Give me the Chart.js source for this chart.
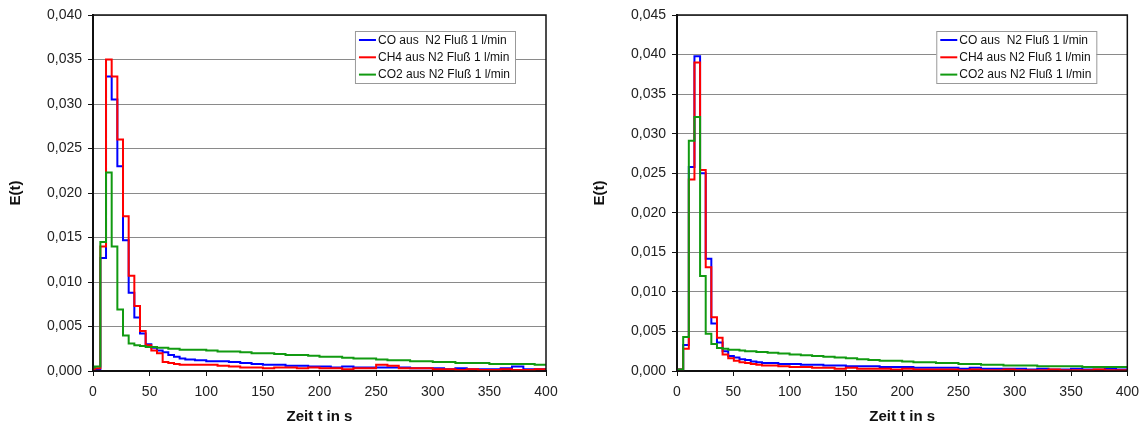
<!DOCTYPE html>
<html lang="de">
<head>
<meta charset="utf-8">
<script src="https://cdn.jsdelivr.net/npm/chart.js@4.4.1/dist/chart.umd.min.js"></script>
<style>
  html, body { margin: 0; padding: 0; background: #fff; }
  #wrap { position: relative; width: 1147px; height: 427px; }
  #links { position: absolute; left: 0; top: 0; }
  #rechts { position: absolute; left: 573px; top: 0; }
</style>
</head>
<body>
<div id="wrap">
  <canvas id="links" width="573" height="427"></canvas>
  <canvas id="rechts" width="574" height="427"></canvas>
</div>
<script>
/* ===================== DATEN ===================== */
const serienNamen = [
  "CO aus  N2 Fluß 1 l/min",
  "CH4 aus N2 Fluß 1 l/min",
  "CO2 aus N2 Fluß 1 l/min",
];

// linkes Diagramm: Zeitpunkte (s) und E(t)
const tLinks = [0, 1.5, 6.5, 11.5, 16.5, 21.5, 26.5, 31.5, 36.5, 41.5, 46.5, 51.5, 56.5, 61.5, 66.5, 71.5, 76.5, 81.5,
  90, 100, 110, 120, 130, 140, 150, 160, 170, 180, 190, 200, 210, 220, 230, 240, 250, 260, 270, 280,
  290, 300, 310, 320, 330, 340, 350, 360, 370, 380, 390, 400];
const coLinks = [0.0002, 0.0002, 0.0127, 0.0331, 0.0305, 0.0230, 0.0147, 0.0088, 0.0060, 0.0042, 0.0030, 0.0026, 0.0023, 0.0021, 0.0018, 0.0016, 0.0014, 0.0013,
  0.0012, 0.0011, 0.0011, 0.0010, 0.0009, 0.0008, 0.0007, 0.0007, 0.0006, 0.0006,
  0.0005, 0.0005, 0.0004, 0.0005, 0.0004, 0.0004, 0.0004, 0.0004, 0.0004, 0.0003,
  0.0003, 0.0003, 0.0002, 0.0003, 0.0002, 0.0002, 0.0002, 0.0003, 0.0005, 0.0002, 0.0002, 0.0002];
const ch4Links = [0.0002, 0.0003, 0.0140, 0.0350, 0.0331, 0.0260, 0.0174, 0.0107, 0.0073, 0.0045, 0.0029, 0.0023, 0.0020, 0.0010, 0.0009, 0.0008, 0.0007, 0.0007,
  0.0007, 0.0007, 0.0006, 0.0005, 0.0004, 0.0004, 0.0003, 0.0004, 0.0004, 0.0003,
  0.0004, 0.0003, 0.0003, 0.0002, 0.0003, 0.0003, 0.0007, 0.0006, 0.0003, 0.0003,
  0.0003, 0.0002, 0.0002, 0.0001, 0.0002, 0.0001, 0.0001, 0.0002, 0.0001, 0.0001, 0.0002, 0.0001];
const co2Links = [0.0004, 0.0005, 0.0145, 0.0223, 0.0140, 0.0069, 0.0040, 0.0031, 0.0029, 0.0028, 0.0027, 0.0027, 0.0026, 0.0026, 0.0025, 0.0025, 0.0024, 0.0024,
  0.0024, 0.0023, 0.0022, 0.0022, 0.0021, 0.0020, 0.0020, 0.0019, 0.0018, 0.0018,
  0.0017, 0.0016, 0.0016, 0.0015, 0.0014, 0.0014, 0.0013, 0.0012, 0.0012, 0.0011,
  0.0011, 0.0010, 0.0010, 0.0009, 0.0009, 0.0009, 0.0008, 0.0008, 0.0008, 0.0008, 0.0007, 0.0007];

// rechtes Diagramm
const tRechts = [0, 5.5, 10.5, 15.5, 20.5, 25.5, 30.5, 35.5, 40.5, 45.5, 50.5, 55.5, 60.5, 65.5, 70.5, 75.5, 80.5,
  90, 100, 110, 120, 130, 140, 150, 160, 170, 180, 190, 200, 210, 220, 230, 240, 250, 260, 270, 280,
  290, 300, 310, 320, 330, 340, 350, 360, 370, 380, 390, 400];
const coRechts = [0.0002, 0.0033, 0.0258, 0.0398, 0.0250, 0.0142, 0.0060, 0.0036, 0.0025, 0.0019, 0.0017, 0.0015, 0.0014, 0.0012, 0.0011, 0.0010, 0.0010,
  0.0009, 0.0009, 0.0008, 0.0008, 0.0007, 0.0007, 0.0006, 0.0006, 0.0006, 0.0005,
  0.0005, 0.0005, 0.0004, 0.0004, 0.0004, 0.0004, 0.0003, 0.0004, 0.0003, 0.0003,
  0.0003, 0.0003, 0.0002, 0.0003, 0.0002, 0.0002, 0.0003, 0.0002, 0.0002, 0.0003, 0.0002, 0.0002];
const ch4Rechts = [0.0002, 0.0028, 0.0242, 0.0390, 0.0254, 0.0131, 0.0068, 0.0042, 0.0021, 0.0016, 0.0013, 0.0011, 0.0010, 0.0009, 0.0008, 0.0007, 0.0007,
  0.0006, 0.0005, 0.0005, 0.0004, 0.0004, 0.0003, 0.0004, 0.0003, 0.0003, 0.0003,
  0.0002, 0.0003, 0.0002, 0.0002, 0.0002, 0.0002, 0.0001, 0.0002, 0.0001, 0.0001,
  0.0002, 0.0001, 0.0001, 0.0001, 0.0002, 0.0001, 0.0001, 0.0001, 0.0002, 0.0001, 0.0001, 0.0001];
const co2Rechts = [0.0002, 0.0043, 0.0291, 0.0321, 0.0120, 0.0047, 0.0034, 0.0029, 0.0028, 0.0027, 0.0027, 0.0026, 0.0025, 0.0025, 0.0024, 0.0024, 0.0023,
  0.0022, 0.0021, 0.0020, 0.0019, 0.0018, 0.0017, 0.0016, 0.0015, 0.0014, 0.0013,
  0.0013, 0.0012, 0.0011, 0.0011, 0.0010, 0.0010, 0.0009, 0.0009, 0.0008, 0.0008,
  0.0007, 0.0007, 0.0007, 0.0006, 0.0006, 0.0006, 0.0006, 0.0005, 0.0005, 0.0005, 0.0005, 0.0005];

/* ===================== STIL ===================== */
const schrift = '"Liberation Sans", Arial, sans-serif';
const farben = ["#0000ff", "#ff0000", "#119a11"];

Chart.defaults.font.family = schrift;
Chart.defaults.color = "#222";

/* Rahmen um die Zeichenfläche */
const rahmen = {
  id: "rahmen",
  afterDatasetsDraw(chart) {
    const { ctx, chartArea: a } = chart;
    ctx.save();
    ctx.strokeStyle = "#111";
    ctx.lineWidth = 1.5;
    ctx.strokeRect(a.left, a.top, a.right - a.left, a.bottom - a.top);
    ctx.restore();
  },
};

/* Legende als Kasten oben rechts in der Zeichenfläche */
const legendeKasten = {
  id: "legendeKasten",
  afterDraw(chart) {
    const { ctx, chartArea: a } = chart;
    const ds = chart.data.datasets;
    ctx.save();
    ctx.font = "12px " + schrift;
    const textB = Math.max(...ds.map((d) => ctx.measureText(d.label).width));
    const breite = textB + 28;
    const hoehe = 52;
    const x0 = a.right - 31 - breite;
    const y0 = 31;
    ctx.fillStyle = "#fff";
    ctx.fillRect(x0, y0, breite, hoehe);
    ctx.strokeStyle = "#999";
    ctx.lineWidth = 1;
    ctx.strokeRect(x0 + 0.5, y0 + 0.5, breite, hoehe);
    ds.forEach((d, i) => {
      const y = y0 + 9 + i * 17.3;
      ctx.strokeStyle = d.borderColor;
      ctx.lineWidth = 2;
      ctx.beginPath();
      ctx.moveTo(x0 + 4, y);
      ctx.lineTo(x0 + 21, y);
      ctx.stroke();
      ctx.fillStyle = "#111";
      ctx.textBaseline = "middle";
      ctx.fillText(d.label, x0 + 23, y + 0.5);
    });
    ctx.restore();
  },
};

/* ===================== DIAGRAMM ERSTELLEN ===================== */
const punkte = (t, v) => t.map((x, i) => ({ x: x, y: v[i] }));

function erstelleDiagramm(id, t, co, ch4, co2, yMax, links, rechts) {
  const reihen = [co, ch4, co2];
  return new Chart(document.getElementById(id), {
    type: "line",
    data: {
      datasets: reihen.map((r, i) => ({
        label: serienNamen[i],
        data: punkte(t, r),
        borderColor: farben[i],
        borderWidth: 2,
        pointRadius: 0,
        stepped: true,
        order: 2 - i,
      })),
    },
    plugins: [rahmen, legendeKasten],
    options: {
      responsive: false,
      animation: false,
      layout: { padding: { top: 15, left: links, right: rechts, bottom: 0 } },
      plugins: { legend: { display: false }, tooltip: { enabled: false } },
      scales: {
        x: {
          type: "linear",
          min: 0,
          max: 400,
          afterFit: (s) => { s.height = 56; },
          ticks: { stepSize: 50, padding: 8, font: { size: 14 } },
          grid: { drawOnChartArea: false, drawTicks: true, tickLength: 5, tickColor: "#111" },
          border: { color: "#111", width: 2 },
          title: {
            display: true,
            text: "Zeit t in s",
            font: { size: 15, weight: "bold" },
            color: "#111",
            padding: { top: 0, bottom: 1 },
          },
        },
        y: {
          min: 0,
          max: yMax,
          afterFit: (s) => { s.width = 93; },
          ticks: {
            stepSize: 0.005,
            padding: 6,
            font: { size: 14 },
            callback: (v) => v.toFixed(3).replace(".", ","),
          },
          grid: { color: "#8a8a8a", lineWidth: 1, tickLength: 5, tickColor: "#111" },
          border: { color: "#111", width: 2 },
          title: {
            display: true,
            text: "E(t)",
            font: { size: 15, weight: "bold" },
            color: "#111",
            padding: { top: 7, bottom: 0 },
          },
        },
      },
    },
  });
}

erstelleDiagramm("links", tLinks, coLinks, ch4Links, co2Links, 0.04, 0, 27);
erstelleDiagramm("rechts", tRechts, coRechts, ch4Rechts, co2Rechts, 0.045, 11, 15);
</script>
</body>
</html>
